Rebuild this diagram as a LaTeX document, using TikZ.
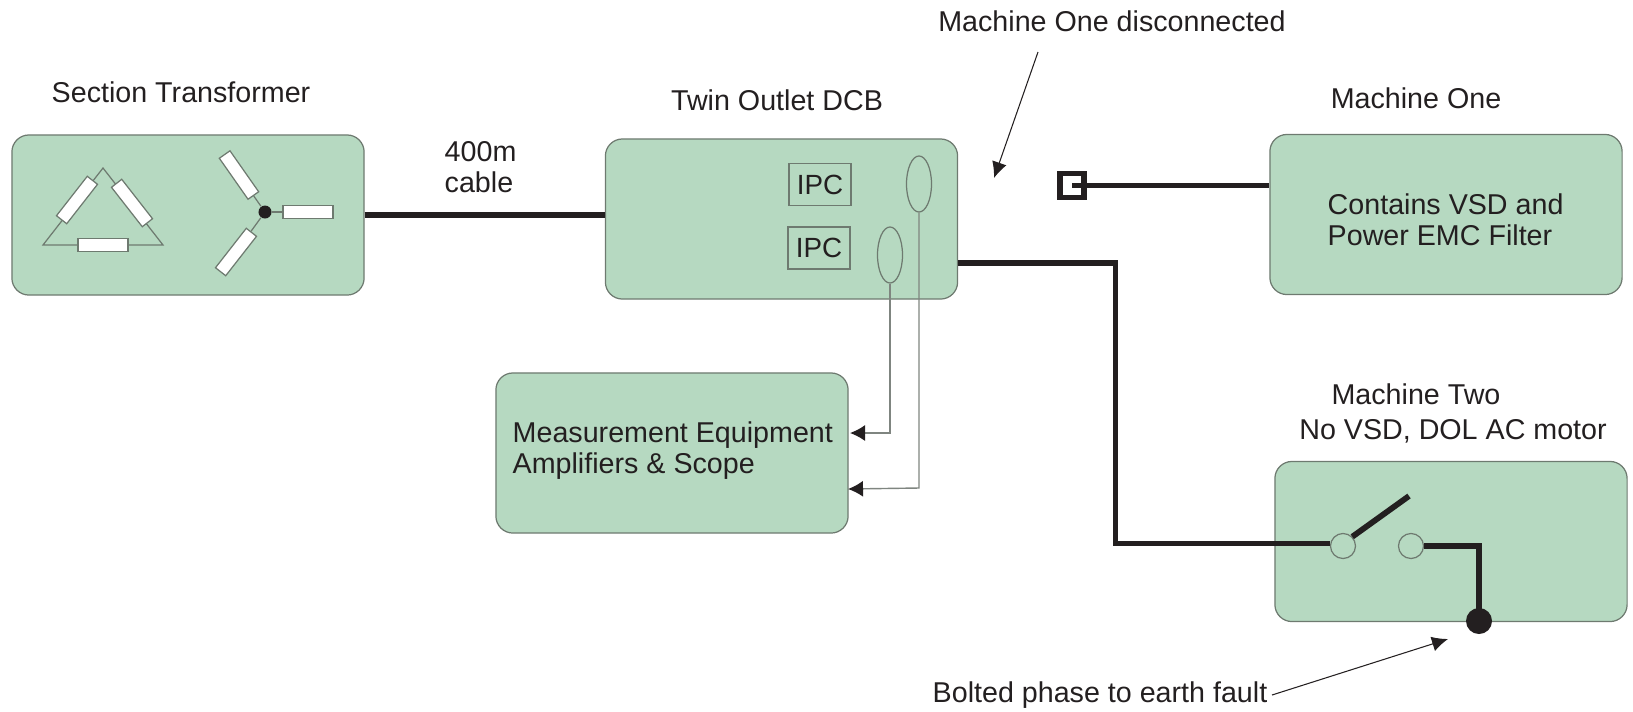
\documentclass[tikz,border=0pt]{standalone}
\usepackage{fontspec}
\setmainfont{Liberation Sans}
\usetikzlibrary{arrows.meta,shapes.geometric}
\definecolor{boxgreen}{HTML}{B6D9C1}
\definecolor{boxedge}{HTML}{6E7A70}
\definecolor{ink}{HTML}{231F20}
\definecolor{leadgrey}{HTML}{7F8580}
\tikzset{
  label/.style={text=ink,inner sep=0pt,font=\fontsize{8.15pt}{8.85pt}\selectfont,align=left},
  greenbox/.style={draw=boxedge,line width=.35pt,fill=boxgreen,rounded corners=.17cm,
    minimum width=3.52cm,minimum height=1.6cm,inner sep=0pt},
  resistor/.style={draw=boxedge,line width=.35pt,fill=white,minimum width=.5cm,minimum height=.13cm,inner sep=0pt},
  ipc/.style={draw=boxedge,line width=.35pt,text=ink,inner sep=0pt,minimum width=.62cm,minimum height=.42cm,
    font=\fontsize{7.9pt}{9pt}\selectfont},
  coil/.style={draw=boxedge,line width=.35pt,ellipse,minimum width=.25cm,minimum height=.56cm,inner sep=0pt},
  contact/.style={circle,draw=boxedge,line width=.35pt,fill=boxgreen,minimum size=.25cm,inner sep=0pt},
  blob/.style={circle,fill=ink,inner sep=0pt},
  power/.style={draw=ink,line width=1.65pt},
  thinline/.style={draw=boxedge,line width=.35pt},
  lead/.style={draw=leadgrey,line width=.4pt,-{Latex[length=.15cm,width=.16cm,color=ink]}},
  pointer/.style={draw=ink,line width=.3pt,-{Latex[length=.16cm,width=.15cm,color=ink]}}
}
\begin{document}
\begin{tikzpicture}[x=.01cm,y=-.01cm]
  \useasboundingbox (0,0) rectangle (1633,711);

  \node[greenbox] (tx) at (188,215) {};
  \node[greenbox] (dcb) at (781.5,219) {};
  \node[greenbox] (meas) at (672,453) {};
  \node[greenbox] (mone) at (1446,214.5) {};
  \node[greenbox] (mtwo) at (1451,541.5) {};

  \node[label,anchor=center] (txt1) at (181,92) {Section Transformer};
  \node[label,anchor=center] (txt2) at (777,100) {Twin Outlet DCB};
  \node[label,anchor=center] (txt3) at (1416,98) {Machine One};
  \node[label,anchor=center] (txt4) at (1112,21) {Machine One disconnected};
  \node[label,anchor=west] (txt5) at (444,167) {400m\\cable};
  \node[label,anchor=west] (txt6) at (1327,220) {Contains VSD and\\Power EMC Filter};
  \node[label,anchor=west] (txt7) at (512,450.5) {Measurement Equipment\\Amplifiers \& Scope};
  \node[label,anchor=center] (txt8) at (1416,394) {Machine Two};
  \node[label,anchor=center] (txt9) at (1453,431) {No VSD, DOL AC motor};
  \node[label,anchor=east] (txt10) at (1268,695) {Bolted phase to earth fault};

  \coordinate (tA) at (103,168);
  \coordinate (tB) at (43,245);
  \coordinate (tC) at (163,245);
  \draw[thinline] (tA) -- (tB) -- (tC) -- cycle;
  \node[resistor,rotate=52] (r1) at (77,200) {};
  \node[resistor,rotate=-52] (r2) at (132,203) {};
  \node[resistor] (r3) at (103,245) {};

  \node[blob,minimum size=.13cm] (star) at (265,212) {};
  \node[resistor] (r4) at (308,212) {};
  \node[resistor,rotate=-55] (r5) at (239,175) {};
  \node[resistor,rotate=52] (r6) at (236,252) {};
  \foreach \from/\to in {star/r4,star/r5,star/r6}
    \draw[thinline] (\from) -- (\to);

  \node[ipc] (ipc1) at (820,184.5) {IPC};
  \node[ipc] (ipc2) at (819,248) {IPC};
  \node[coil] (ct1) at (919,184) {};
  \node[coil] (ct2) at (890,255) {};

  \coordinate (lead1) at (890,433);
  \coordinate (lead2) at (919,488);
  \coordinate (tip1) at (850,433);
  \coordinate (tip2) at (848,489);
  \draw[lead] (ct2.south) -- (lead1) -- (tip1);
  \draw[lead] (ct1.south) -- (lead2) -- (tip2);

  \draw[power] (tx.east) -- (tx.east -| dcb.west);

  \node[draw=ink,line width=1.55pt,minimum size=.24cm,inner sep=0pt] (plug) at (1072,185.5) {};
  \draw[power] (plug.center) -- (plug.center -| mone.west);

  \coordinate (w1) at (958,263);
  \coordinate (w2) at (1115.5,263);
  \coordinate (w3) at (1115.5,543.5);
  \node[contact] (c1) at (1343,546) {};
  \node[contact] (c2) at (1411,546) {};
  \node[blob,minimum size=.26cm] (fault) at (1479,621) {};
  \coordinate (w4) at (1479,546);
  \draw[power,line join=miter] (w1) -- (w2) -- (w3) -- (c1.west |- w3);
  \draw[power,line join=miter] (c2.east) -- (w4) -- (fault.center);
  \coordinate (arm) at (1409,496);
  \draw[power] (c1.north east) -- (arm);

  \coordinate (from1) at (1038,52);
  \coordinate (hit1) at (994,178);
  \coordinate (hit2) at (1448,639);
  \draw[pointer] (from1) -- (hit1);
  \draw[pointer] ([xshift=.04cm]txt10.east) -- (hit2);

\end{tikzpicture}
\end{document}
